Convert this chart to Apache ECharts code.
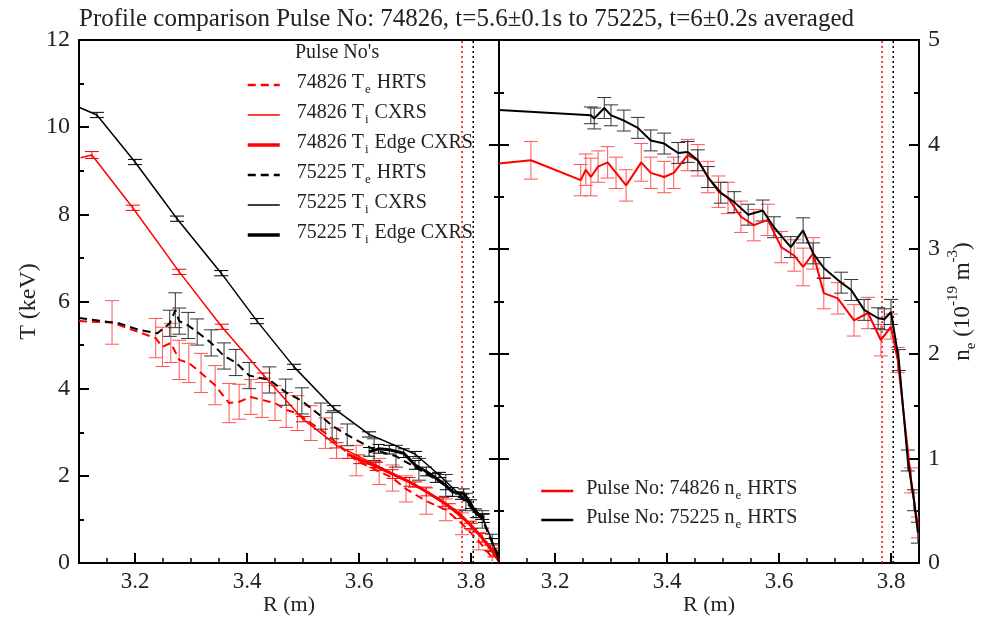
<!DOCTYPE html>
<html>
<head>
<meta charset="utf-8">
<script src="https://cdn.jsdelivr.net/npm/echarts@6/dist/echarts.min.js"></script>
<style>
  html, body { margin: 0; padding: 0; background: #fff; }
  #chart { width: 984px; height: 623px; }
</style>
</head>
<body>
<div id="chart"></div>
<script>
// ---- profile data: [R (m), value, error] ----
const teHrts74826 = [
  [3.100, 5.55, 0], [3.159, 5.52, 0.5], [3.195, 5.35, 0], [3.237, 5.16, 0.45], [3.249, 4.96, 0.45],
  [3.264, 5.05, 0.45], [3.279, 4.66, 0.45], [3.296, 4.59, 0.45], [3.318, 4.36, 0.45], [3.343, 4.08, 0.45],
  [3.368, 3.67, 0.45], [3.386, 3.70, 0.4], [3.407, 3.81, 0.4], [3.427, 3.74, 0.4], [3.450, 3.67, 0.4],
  [3.470, 3.51, 0.4], [3.490, 3.44, 0.4], [3.514, 3.21, 0.4], [3.540, 2.98, 0.35], [3.560, 2.75, 0.35],
  [3.595, 2.35, 0.35], [3.636, 2.10, 0.3], [3.660, 1.95, 0.3], [3.684, 1.70, 0.3], [3.720, 1.42, 0.3],
  [3.755, 1.22, 0.25], [3.784, 0.90, 0.25], [3.814, 0.50, 0.2], [3.838, 0.12, 0.15]
];
const tiCxrs74826 = [
  [3.103, 9.30, 0], [3.123, 9.36, 0.08], [3.196, 8.15, 0.06], [3.279, 6.68, 0.06], [3.355, 5.42, 0.06],
  [3.430, 4.30, 0.06], [3.500, 3.30, 0.06], [3.560, 2.70, 0.06], [3.630, 2.25, 0.06], [3.700, 1.80, 0.06],
  [3.760, 1.30, 0.06], [3.800, 0.85, 0.06], [3.835, 0.35, 0.06], [3.850, 0.02, 0]
];
const tiEdge74826 = [
  [3.580, 2.50, 0.1], [3.600, 2.38, 0.1], [3.630, 2.22, 0.1], [3.660, 2.04, 0.1], [3.690, 1.86, 0.1],
  [3.720, 1.64, 0.1], [3.750, 1.40, 0.1], [3.780, 1.12, 0.1], [3.800, 0.86, 0.1], [3.820, 0.58, 0.1],
  [3.840, 0.24, 0.1], [3.850, 0.05, 0]
];
const teHrts75225 = [
  [3.100, 5.62, 0], [3.171, 5.50, 0], [3.207, 5.35, 0], [3.240, 5.27, 0], [3.262, 5.50, 0.3],
  [3.272, 5.80, 0.4], [3.279, 5.55, 0.3], [3.295, 5.45, 0.3], [3.311, 5.30, 0.3], [3.336, 5.05, 0.3],
  [3.359, 4.75, 0.3], [3.380, 4.60, 0.3], [3.404, 4.30, 0.3], [3.440, 4.20, 0.3], [3.469, 3.92, 0.3],
  [3.498, 3.72, 0.3], [3.532, 3.37, 0.3], [3.552, 3.15, 0.3], [3.579, 2.94, 0.25], [3.627, 2.60, 0.25],
  [3.666, 2.45, 0.25], [3.707, 2.15, 0.25], [3.755, 1.78, 0.25], [3.791, 1.40, 0.2], [3.820, 1.00, 0.2],
  [3.838, 0.46, 0.2], [3.850, 0.15, 0]
];
const tiCxrs75225 = [
  [3.101, 10.45, 0], [3.132, 10.28, 0.06], [3.200, 9.20, 0.06], [3.275, 7.90, 0.06], [3.354, 6.65, 0.06],
  [3.418, 5.55, 0.06], [3.484, 4.50, 0.06], [3.555, 3.55, 0.06], [3.618, 2.95, 0.06], [3.700, 2.50, 0.06],
  [3.743, 2.02, 0.06], [3.784, 1.52, 0.06], [3.820, 1.06, 0.06], [3.838, 0.50, 0.06], [3.850, 0.02, 0]
];
const tiEdge75225 = [
  [3.618, 2.55, 0.1], [3.635, 2.62, 0.1], [3.654, 2.60, 0.1], [3.680, 2.52, 0.1], [3.700, 2.25, 0.1],
  [3.720, 2.10, 0.1], [3.737, 1.95, 0.1], [3.755, 1.78, 0.1], [3.767, 1.63, 0.1], [3.787, 1.60, 0.1],
  [3.800, 1.35, 0.1], [3.809, 1.14, 0.1], [3.823, 1.03, 0.1]
];
const ne74826 = [
  [3.100, 3.82, 0], [3.157, 3.85, 0.18], [3.246, 3.66, 0.15], [3.255, 3.76, 0.15], [3.264, 3.69, 0.18],
  [3.277, 3.79, 0.15], [3.294, 3.83, 0.15], [3.309, 3.73, 0.15], [3.327, 3.61, 0.15], [3.354, 3.83, 0.18],
  [3.371, 3.73, 0.15], [3.395, 3.69, 0.15], [3.412, 3.73, 0.15], [3.437, 3.90, 0.15], [3.455, 3.85, 0.15],
  [3.473, 3.69, 0.15], [3.492, 3.55, 0.15], [3.509, 3.49, 0.15], [3.532, 3.31, 0.15], [3.555, 3.23, 0.15],
  [3.580, 3.28, 0.15], [3.604, 3.02, 0.15], [3.627, 2.94, 0.15], [3.643, 2.83, 0.18], [3.661, 2.96, 0.15],
  [3.680, 2.58, 0.15], [3.705, 2.53, 0.15], [3.734, 2.32, 0.15], [3.759, 2.39, 0.15], [3.782, 2.13, 0.15],
  [3.800, 2.26, 0.12], [3.812, 1.94, 0.12], [3.836, 0.79, 0.12], [3.848, 0.34, 0.1]
];
const ne75225 = [
  [3.100, 4.33, 0], [3.264, 4.28, 0.08], [3.270, 4.25, 0.1], [3.288, 4.35, 0.1], [3.300, 4.28, 0.1],
  [3.323, 4.23, 0.1], [3.348, 4.16, 0.1], [3.371, 4.04, 0.1], [3.395, 4.01, 0.1], [3.420, 3.92, 0.1],
  [3.437, 3.93, 0.1], [3.455, 3.85, 0.1], [3.473, 3.69, 0.1], [3.496, 3.54, 0.1], [3.520, 3.45, 0.1],
  [3.545, 3.33, 0.1], [3.571, 3.37, 0.1], [3.591, 3.21, 0.1], [3.621, 3.02, 0.1], [3.643, 3.18, 0.12],
  [3.661, 2.96, 0.1], [3.680, 2.82, 0.1], [3.711, 2.68, 0.1], [3.729, 2.61, 0.1], [3.752, 2.42, 0.1],
  [3.777, 2.34, 0.1], [3.788, 2.33, 0.1], [3.800, 2.40, 0.12], [3.814, 1.94, 0.1], [3.830, 0.98, 0.1],
  [3.841, 0.60, 0.1], [3.848, 0.29, 0.1]
];
// separatrix positions for the two pulses
const sepR74826 = 3.784;
const sepR75225 = 3.804;

const rMin = 3.1, rMax = 3.85;
const rMajorTicks = [3.2, 3.4, 3.6, 3.8];
const tMax = 12, neMax = 5;

const FONT = 'Liberation Serif';
const TXT = '#222';
const RED = '#ff0000';
const BLACK = '#000000';

function errRender(color, halfWidth) {
  return function (params, api) {
    const x = api.value(0), y = api.value(1), e = api.value(2);
    if (!e) return null;
    const top = api.coord([x, y + e]);
    const bot = api.coord([x, y - e]);
    const st = { stroke: color, lineWidth: 1 };
    return {
      type: 'group',
      children: [
        { type: 'line', shape: { x1: top[0], y1: top[1], x2: bot[0], y2: bot[1] }, style: st },
        { type: 'line', shape: { x1: top[0] - halfWidth, y1: top[1], x2: top[0] + halfWidth, y2: top[1] }, style: st },
        { type: 'line', shape: { x1: bot[0] - halfWidth, y1: bot[1], x2: bot[0] + halfWidth, y2: bot[1] }, style: st }
      ]
    };
  };
}

function lineSeries(name, data, xi, yi, color, width, type, z) {
  return {
    name, type: 'line', xAxisIndex: xi, yAxisIndex: yi,
    data: data.map(d => [d[0], d[1]]),
    symbol: 'none', clip: true, z: z || 3,
    lineStyle: { color, width, type: type || 'solid' },
    itemStyle: { color }
  };
}
function errSeries(data, xi, yi, color, hw) {
  return {
    type: 'custom', xAxisIndex: xi, yAxisIndex: yi, clip: true, z: 2,
    renderItem: errRender(color, hw), data: data
  };
}
function vline(r, xi, yi, top, color) {
  return {
    type: 'line', xAxisIndex: xi, yAxisIndex: yi, symbol: 'none', silent: true, z: 1,
    data: [[r, 0], [r, top]],
    lineStyle: { color, width: 1.5, type: [2, 3] }
  };
}

function legendRich(gap) {
  return {
    f: { fontFamily: FONT, fontSize: 20, lineHeight: 22, color: TXT, verticalAlign: 'bottom', padding: [0, 0, 3, gap] },
    n: { fontFamily: FONT, fontSize: 20, lineHeight: 22, color: TXT, verticalAlign: 'bottom', padding: [0, 0, 3, 0] },
    s: { fontFamily: FONT, fontSize: 13, lineHeight: 13, color: TXT, verticalAlign: 'bottom', padding: [0, 1, 0, 1] }
  };
}
function legendFmt(name) {
  const m = name.match(/^(.*?(?:T|n))(e|i)( .*)$/);
  if (m) return '{f|' + m[1] + '}{s|' + m[2] + '}{n|' + m[3] + '}';
  return '{f|' + name + '}';
}
function legendItem(name, color, width, type) {
  return { name, lineStyle: { color, width, type: type || 'solid' } };
}

const xMinor = (gi) => ({
  type: 'value', gridIndex: gi, min: rMin, max: rMax, interval: 0.05, position: 'bottom',
  axisLine: { show: false }, splitLine: { show: false },
  axisTick: { inside: true, length: 5, lineStyle: { color: BLACK, width: 1.5 } },
  axisLabel: { show: false },
  name: 'R (m)', nameLocation: 'middle', nameGap: 31,
  nameTextStyle: { fontFamily: FONT, fontSize: 22, color: TXT }
});
const xMajor = (gi) => ({
  type: 'value', gridIndex: gi, min: rMin, max: rMax, position: 'bottom',
  axisLine: { show: false }, splitLine: { show: false },
  axisTick: { inside: true, length: 10, customValues: rMajorTicks, lineStyle: { color: BLACK, width: 2 } },
  axisLabel: { customValues: rMajorTicks, margin: 7, fontFamily: FONT, fontSize: 23, color: TXT,
    formatter: v => v.toFixed(1) }
});
const tickStyle = { color: BLACK, width: 2 };

function draw() {
  const chart = echarts.init(document.getElementById('chart'), null, { renderer: 'canvas' });
  chart.setOption({
    animation: false,
    backgroundColor: '#fff',
    title: {
      text: 'Profile comparison Pulse No: 74826, t=5.6\u00b10.1s to 75225, t=6\u00b10.2s averaged',
      left: 74, top: 2,
      textStyle: { fontFamily: FONT, fontSize: 25, fontWeight: 'normal', color: TXT }
    },
    grid: [
      { left: 79, top: 40, width: 420, height: 523, show: true, borderColor: BLACK, borderWidth: 2, backgroundColor: 'transparent' },
      { left: 499, top: 40, width: 420, height: 523, show: true, borderColor: BLACK, borderWidth: 2, backgroundColor: 'transparent' }
    ],
    xAxis: [xMinor(0), xMajor(0), xMinor(1), xMajor(1)],
    yAxis: [
      {
        type: 'value', gridIndex: 0, min: 0, max: tMax, interval: 2, position: 'left',
        axisLine: { show: false }, splitLine: { show: false },
        axisTick: { inside: true, length: 10, lineStyle: tickStyle },
        minorTick: { show: true, splitNumber: 2, length: 5, lineStyle: tickStyle },
        axisLabel: { margin: 9, fontFamily: FONT, fontSize: 24, color: TXT },
        name: 'T (keV)', nameLocation: 'middle', nameGap: 38, nameRotate: 90,
        nameTextStyle: { fontFamily: FONT, fontSize: 24, color: TXT }
      },
      {
        type: 'value', gridIndex: 1, min: 0, max: neMax, interval: 1, position: 'right',
        axisLine: { show: false }, splitLine: { show: false },
        axisTick: { inside: true, length: 10, lineStyle: tickStyle },
        minorTick: { show: true, splitNumber: 2, length: 5, lineStyle: tickStyle },
        axisLabel: { margin: 9, fontFamily: FONT, fontSize: 24, color: TXT },
        name: '{n|n}{s|e}{n| (10}{p|-19}{n| m}{p|-3}{n|)}', nameLocation: 'middle', nameGap: 27, nameRotate: 90,
        nameTextStyle: {
          rich: {
            n: { fontFamily: FONT, fontSize: 23, color: TXT, verticalAlign: 'middle', padding: [5, 0, 5, 0] },
            s: { fontFamily: FONT, fontSize: 15, color: TXT, verticalAlign: 'bottom' },
            p: { fontFamily: FONT, fontSize: 15, color: TXT, verticalAlign: 'top' }
          }
        }
      },
      {
        type: 'value', gridIndex: 1, min: 0, max: neMax, interval: 1, position: 'left',
        axisLine: { show: false }, splitLine: { show: false },
        axisTick: { inside: true, length: 10, lineStyle: tickStyle },
        minorTick: { show: true, splitNumber: 2, length: 5, lineStyle: tickStyle },
        axisLabel: { show: false }
      },
      {
        type: 'value', gridIndex: 1, min: 0, max: neMax, interval: 1, position: 'left',
        axisLine: { show: false }, splitLine: { show: false },
        axisTick: { inside: false, length: 10, lineStyle: tickStyle },
        minorTick: { show: true, splitNumber: 2, length: 5, lineStyle: tickStyle },
        axisLabel: { show: false }
      }
    ],
    legend: [
      {
        left: 241, top: 68, orient: 'vertical', itemWidth: 32, itemHeight: 14, itemGap: 7,
        data: [
          legendItem('74826 Te HRTS', RED, 2.5, [8, 5]),
          legendItem('74826 Ti CXRS', RED, 1.5),
          legendItem('74826 Ti Edge CXRS', RED, 3.5),
          legendItem('75225 Te HRTS', BLACK, 2.5, [8, 5]),
          legendItem('75225 Ti CXRS', BLACK, 1.5),
          legendItem('75225 Ti Edge CXRS', BLACK, 3.5)
        ],
        formatter: legendFmt, textStyle: { rich: legendRich(12) }, itemStyle: { opacity: 0 }, selectedMode: false
      },
      {
        left: 535, top: 474, orient: 'vertical', itemWidth: 32, itemHeight: 14, itemGap: 6,
        data: [
          legendItem('Pulse No: 74826 ne HRTS', RED, 2.5),
          legendItem('Pulse No: 75225 ne HRTS', BLACK, 2.5)
        ],
        formatter: legendFmt, textStyle: { rich: legendRich(8) }, itemStyle: { opacity: 0 }, selectedMode: false
      }
    ],
    graphic: [
      { type: 'text', left: 295, top: 43, style: { text: "Pulse No's", font: '20px "' + FONT + '"', fill: TXT } }
    ],
    series: [
      vline(sepR74826, 0, 0, tMax, RED),
      vline(sepR75225, 0, 0, tMax, BLACK),
      vline(sepR74826, 2, 1, neMax, RED),
      vline(sepR75225, 2, 1, neMax, BLACK),

      errSeries(teHrts74826, 0, 0, '#ff5555', 7),
      errSeries(tiCxrs74826, 0, 0, RED, 7),
      errSeries(tiEdge74826, 0, 0, RED, 6),
      errSeries(teHrts75225, 0, 0, '#333333', 7),
      errSeries(tiCxrs75225, 0, 0, BLACK, 7),
      errSeries(tiEdge75225, 0, 0, BLACK, 6),

      lineSeries('74826 Te HRTS', teHrts74826, 0, 0, RED, 2, [8, 5]),
      lineSeries('74826 Ti CXRS', tiCxrs74826, 0, 0, RED, 1.5),
      lineSeries('74826 Ti Edge CXRS', tiEdge74826, 0, 0, RED, 3),
      lineSeries('75225 Te HRTS', teHrts75225, 0, 0, BLACK, 2, [8, 5]),
      lineSeries('75225 Ti CXRS', tiCxrs75225, 0, 0, BLACK, 1.5),
      lineSeries('75225 Ti Edge CXRS', tiEdge75225, 0, 0, BLACK, 3),

      errSeries(ne74826, 2, 1, '#ff5555', 7),
      errSeries(ne75225, 2, 1, '#333333', 7),
      lineSeries('Pulse No: 74826 ne HRTS', ne74826, 2, 1, RED, 2),
      lineSeries('Pulse No: 75225 ne HRTS', ne75225, 2, 1, BLACK, 2)
    ]
  });
}

// make sure the serif face is ready before the canvas text is laid out
if (document.fonts && document.fonts.load) {
  Promise.race([
    document.fonts.load('20px "Liberation Serif"'),
    new Promise(r => setTimeout(r, 1500))
  ]).then(draw, draw);
} else {
  draw();
}
</script>
</body>
</html>
